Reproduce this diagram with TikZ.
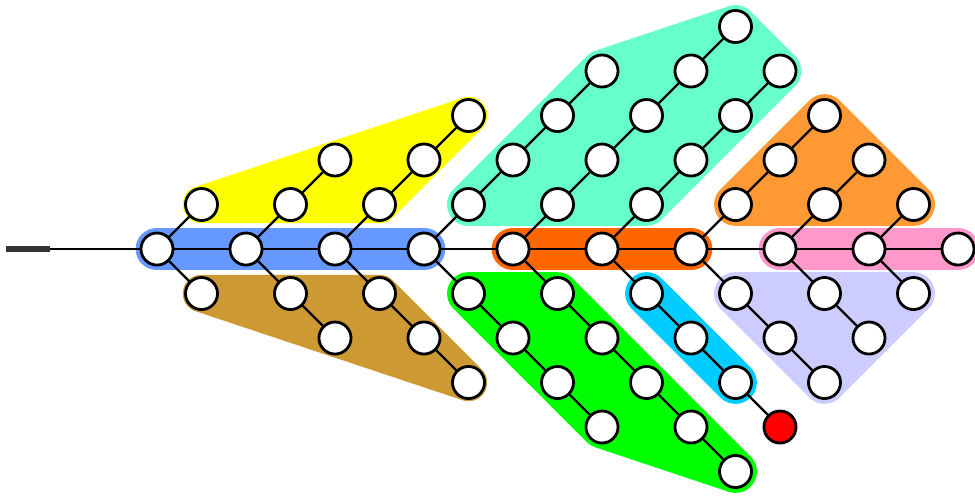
\documentclass[tikz,border=0pt]{standalone}
\definecolor{grpblue}{RGB}{102,153,255}
\definecolor{grpyellow}{RGB}{255,255,0}
\definecolor{grpbrown}{RGB}{204,153,51}
\definecolor{grpteal}{RGB}{102,255,204}
\definecolor{grpgreen}{RGB}{0,255,0}
\definecolor{grpdeeporange}{RGB}{255,102,0}
\definecolor{grpcyan}{RGB}{0,204,255}
\definecolor{grporange}{RGB}{255,153,51}
\definecolor{grppink}{RGB}{255,153,204}
\definecolor{grplavender}{RGB}{204,204,255}
\tikzset{
    vertex/.style={circle, draw, line width=1.8pt, fill=white, minimum size=0.72cm, inner sep=0pt},
    link/.style={line width=1.5pt},
    hull/.style={draw=#1, fill=#1, line width=0.96cm, line join=round, line cap=round},
}
\begin{document}
\begin{tikzpicture}
    \useasboundingbox (-3.528,-5.573) rectangle (18.382,5.596);
    \draw[hull=grpblue] (0,0) -- (6,0);
    \draw[hull=grpyellow, line width=0.84cm] (1,1) -- (5,1) -- (7,3) -- cycle;
    \draw[hull=grpbrown, line width=0.84cm] (1,-1) -- (5,-1) -- (7,-3) -- cycle;
    \draw[hull=grpteal] (7,1) -- (10,4) -- (13,5) -- (14,4) -- (11,1) -- cycle;
    \draw[hull=grpgreen] (7,-1) -- (9,-1) -- (13,-5) -- (10,-4) -- cycle;
    \draw[hull=grpdeeporange] (8,0) -- (12,0);
    \draw[hull=grpcyan] (11,-1) -- (13,-3);
    \draw[hull=grporange] (13,1) -- (15,3) -- (17,1) -- cycle;
    \draw[hull=grppink] (14,0) -- (18,0);
    \draw[hull=grplavender] (13,-1) -- (15,-3) -- (17,-1) -- cycle;
    \foreach \i in {0,...,9}
        \node[vertex, alias=u\i-0, alias=d\i-0] (m\i) at (2*\i,0) {};
    \foreach \k/\n in {0/1,1/2,2/3,3/4,4/5,5/4,6/3,7/2,8/1} {
        \foreach \j in {1,...,\n}
            \node[vertex] (u\k-\j) at (2*\k+\j,\j) {};
    }
    \foreach \k/\n in {0/1,1/2,2/3,3/4,4/5,5/3,6/3,7/2,8/1} {
        \foreach \j in {1,...,\n}
            \node[vertex] (d\k-\j) at (2*\k+\j,-\j) {};
    }
    \node[vertex, fill=red] (d5-4) at (14,-4) {};
    \coordinate (start) at (-3.39,0);
    \coordinate (joint) at (-2.4,0);
    \draw[line width=3.4pt, black!80] (start) -- (joint);
    \draw[link] (joint) -- (m0);
    \foreach \i [remember=\i as \lasti (initially 0)] in {1,...,9}
        \draw[link] (m\lasti) -- (m\i);
    \foreach \k/\n in {0/1,1/2,2/3,3/4,4/5,5/4,6/3,7/2,8/1} {
        \foreach \j [remember=\j as \lastj (initially 0)] in {1,...,\n} {
            \draw[link] (u\k-\lastj) -- (u\k-\j);
            \draw[link] (d\k-\lastj) -- (d\k-\j);
        }
    }
\end{tikzpicture}
\end{document}
